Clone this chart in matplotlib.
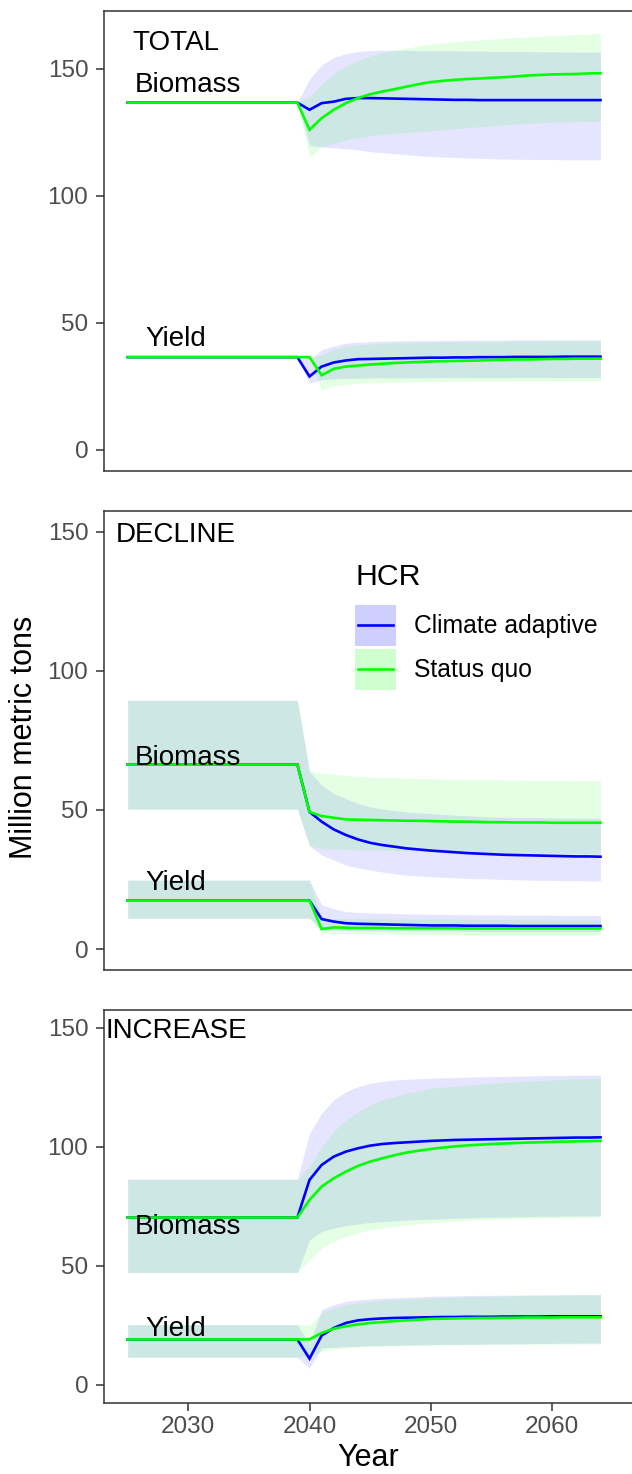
import matplotlib
matplotlib.use("Agg")
import matplotlib.pyplot as plt
from matplotlib.patches import Patch
from matplotlib.lines import Line2D
from matplotlib.legend_handler import HandlerLine2D
import numpy as np

plt.rcParams['font.family'] = ['Liberation Sans', 'DejaVu Sans']

years = np.arange(2025, 2065)
n_pre = 14  # 2025-2038, before the new HCR starts

# ---- TOTAL ----  (post lists run 2039..2064)
tot_bio_pre = 136.7
tot_bio_ca = [136.7, 133.9, 136.5, 137.1, 138.2, 138.5, 138.5, 138.4, 138.3, 138.2, 138.1, 138.0, 137.9,
              137.8, 137.8, 137.7, 137.7, 137.7, 137.7, 137.7, 137.7, 137.7, 137.7, 137.7, 137.7, 137.7]
tot_bio_sq = [136.7, 126.0, 130.6, 133.9, 136.5, 138.5, 140.0, 141.1, 142.0, 143.0, 144.0, 144.8, 145.3,
              145.7, 146.0, 146.2, 146.5, 146.7, 147.0, 147.4, 147.6, 147.8, 147.9, 148.0, 148.2, 148.3]
tot_bio_ca_hi = [136.7, 146.0, 151.5, 154.5, 156.0, 156.8, 157.2, 157.3, 157.3, 157.3, 157.2, 157.2, 157.1,
                 157.1, 157.0, 157.0, 156.9, 156.9, 156.8, 156.8, 156.7, 156.7, 156.7, 156.6, 156.6, 156.6]
tot_bio_ca_lo = [136.7, 119.8, 119.3, 118.9, 118.5, 118.1, 117.4, 117.0, 116.6, 116.2, 115.8, 115.5, 115.3,
                 115.1, 114.9, 114.8, 114.6, 114.5, 114.4, 114.4, 114.3, 114.3, 114.2, 114.2, 114.2, 114.2]
tot_bio_sq_hi = [136.7, 139.0, 144.0, 148.0, 151.0, 153.3, 155.0, 156.3, 157.3, 158.2, 159.0, 159.7, 160.2,
                 160.7, 161.1, 161.4, 161.7, 162.0, 162.3, 162.6, 162.9, 163.1, 163.3, 163.5, 163.7, 163.9]
tot_bio_sq_lo = [136.7, 115.1, 119.4, 120.8, 122.0, 123.0, 123.6, 124.2, 124.7, 125.0, 125.3, 125.6, 126.0,
                 126.4, 126.8, 127.2, 127.6, 128.0, 128.3, 128.6, 128.8, 129.0, 129.1, 129.2, 129.3, 129.3]

tot_yld_pre = 36.5
tot_yld_ca = [36.5, 28.9, 32.8, 34.4, 35.2, 35.7, 35.8, 35.9, 36.0, 36.1, 36.2, 36.3, 36.3,
              36.4, 36.4, 36.5, 36.5, 36.5, 36.6, 36.6, 36.6, 36.6, 36.7, 36.7, 36.7, 36.7]
tot_yld_sq = [36.5, 36.5, 29.4, 31.9, 32.8, 33.2, 33.6, 33.9, 34.2, 34.4, 34.6, 34.8, 34.9,
              35.0, 35.1, 35.2, 35.4, 35.5, 35.6, 35.6, 35.7, 35.8, 35.8, 35.9, 35.9, 35.9]
tot_yld_ca_hi = [36.5, 35.4, 39.4, 40.9, 42.0, 42.4, 42.6, 42.8, 42.9, 43.0, 43.0, 43.1, 43.1,
                 43.1, 43.2, 43.2, 43.2, 43.2, 43.3, 43.3, 43.3, 43.3, 43.3, 43.3, 43.3, 43.3]
tot_yld_ca_lo = [36.5, 26.2, 27.6, 27.9, 28.1, 28.2, 28.3, 28.3, 28.4, 28.4, 28.4, 28.4, 28.5,
                 28.5, 28.5, 28.5, 28.5, 28.5, 28.5, 28.5, 28.5, 28.5, 28.5, 28.5, 28.5, 28.5]
tot_yld_sq_hi = [36.5, 36.5, 37.4, 39.6, 40.7, 41.3, 41.7, 41.9, 42.1, 42.2, 42.3, 42.4, 42.5,
                 42.5, 42.6, 42.6, 42.7, 42.7, 42.8, 42.8, 42.8, 42.9, 42.9, 43.0, 43.0, 43.0]
tot_yld_sq_lo = [36.5, 36.5, 23.4, 25.2, 25.8, 26.2, 26.4, 26.5, 26.6, 26.7, 26.8, 26.9, 26.9,
                 27.0, 27.0, 27.1, 27.1, 27.1, 27.2, 27.2, 27.2, 27.2, 27.3, 27.3, 27.3, 27.3]

# ---- DECLINE ----
dec_bio_pre, dec_bio_pre_lo, dec_bio_pre_hi = 66.3, 50.3, 89.4
dec_bio_ca = [66.3, 49.3, 45.8, 43.0, 41.0, 39.4, 38.2, 37.4, 36.8, 36.2, 35.8, 35.4, 35.1,
              34.8, 34.5, 34.3, 34.1, 33.9, 33.8, 33.7, 33.6, 33.5, 33.4, 33.3, 33.3, 33.2]
dec_bio_sq = [66.3, 49.3, 47.8, 47.2, 46.6, 46.5, 46.4, 46.3, 46.2, 46.1, 46.1, 46.0, 45.9,
              45.8, 45.8, 45.7, 45.6, 45.6, 45.5, 45.5, 45.5, 45.4, 45.4, 45.4, 45.4, 45.4]
dec_bio_ca_hi = [89.4, 63.9, 58.9, 55.9, 54.1, 52.3, 51.1, 50.3, 49.8, 49.3, 49.0, 48.7, 48.4,
                 48.1, 47.9, 47.7, 47.5, 47.4, 47.3, 47.2, 47.2, 47.1, 47.1, 47.0, 47.0, 47.0]
dec_bio_ca_lo = [50.3, 37.1, 33.8, 32.0, 30.2, 29.2, 28.4, 27.7, 27.1, 26.6, 26.3, 26.0, 25.8,
                 25.6, 25.4, 25.3, 25.2, 25.0, 24.9, 24.8, 24.7, 24.7, 24.6, 24.6, 24.5, 24.5]
dec_bio_sq_hi = [89.4, 63.9, 63.3, 62.8, 62.4, 62.1, 61.9, 61.7, 61.6, 61.4, 61.3, 61.2, 61.1,
                 61.0, 60.9, 60.9, 60.8, 60.8, 60.7, 60.7, 60.6, 60.6, 60.6, 60.5, 60.5, 60.5]
dec_bio_sq_lo = [50.3, 37.1, 36.2, 36.0, 35.8, 35.7, 35.6, 35.5, 35.4, 35.2, 35.1, 35.0, 34.9,
                 34.9, 34.8, 34.8, 34.7, 34.7, 34.6, 34.6, 34.5, 34.5, 34.5, 34.4, 34.4, 34.4]

dec_yld_pre, dec_yld_pre_lo, dec_yld_pre_hi = 17.4, 11.1, 24.8
dec_yld_ca = [17.4, 17.4, 10.8, 9.9, 9.3, 9.1, 9.0, 8.9, 8.8, 8.7, 8.6, 8.5, 8.5,
              8.5, 8.4, 8.4, 8.4, 8.4, 8.3, 8.3, 8.3, 8.3, 8.3, 8.3, 8.3, 8.3]
dec_yld_sq = [17.4, 17.4, 7.2, 7.8, 7.7, 7.6, 7.6, 7.6, 7.5, 7.5, 7.5, 7.5, 7.5,
              7.5, 7.4, 7.4, 7.4, 7.4, 7.4, 7.4, 7.4, 7.4, 7.4, 7.4, 7.4, 7.4]
dec_yld_ca_hi = [24.8, 24.8, 15.9, 14.5, 13.5, 13.2, 13.0, 12.9, 12.8, 12.7, 12.6, 12.5, 12.5,
                 12.4, 12.4, 12.3, 12.3, 12.3, 12.2, 12.2, 12.2, 12.2, 12.1, 12.1, 12.1, 12.1]
dec_yld_ca_lo = [11.1, 11.1, 6.9, 6.8, 6.7, 6.6, 6.6, 6.5, 6.5, 6.5, 6.4, 6.4, 6.4,
                 6.4, 6.4, 6.3, 6.3, 6.3, 6.3, 6.3, 6.3, 6.3, 6.3, 6.3, 6.3, 6.3]
dec_yld_sq_hi = [24.8, 24.8, 11.1, 11.0, 11.0, 11.0, 10.9, 10.9, 10.8, 10.8, 10.8, 10.7, 10.7,
                 10.7, 10.6, 10.6, 10.6, 10.6, 10.6, 10.5, 10.5, 10.5, 10.5, 10.5, 10.5, 10.5]
dec_yld_sq_lo = [11.1, 11.1, 5.7, 5.6, 5.5, 5.5, 5.4, 5.4, 5.3, 5.3, 5.3, 5.2, 5.2,
                 5.2, 5.2, 5.1, 5.1, 5.1, 5.1, 5.1, 5.1, 5.1, 5.1, 5.1, 5.1, 5.1]

# ---- INCREASE ----
inc_bio_pre, inc_bio_pre_lo, inc_bio_pre_hi = 70.3, 47.2, 86.4
inc_bio_ca = [70.3, 86.1, 92.4, 95.9, 98.0, 99.4, 100.5, 101.2, 101.6, 101.9, 102.2, 102.5, 102.7,
              102.9, 103.0, 103.1, 103.2, 103.3, 103.4, 103.5, 103.6, 103.7, 103.8, 103.9, 103.9, 104.0]
inc_bio_sq = [70.3, 77.7, 83.3, 86.8, 89.6, 92.0, 93.8, 95.2, 96.5, 97.6, 98.4, 99.1, 99.7,
              100.2, 100.6, 100.9, 101.2, 101.4, 101.6, 101.8, 101.9, 102.1, 102.2, 102.3, 102.4, 102.5]
inc_bio_ca_hi = [86.4, 105.7, 114.1, 119.7, 123.2, 125.3, 126.7, 127.5, 128.1, 128.4, 128.6, 128.8, 129.0,
                 129.1, 129.3, 129.4, 129.5, 129.6, 129.7, 129.8, 129.9, 130.0, 130.0, 130.1, 130.1, 130.2]
inc_bio_ca_lo = [47.2, 60.9, 64.4, 65.8, 66.9, 67.6, 68.2, 68.6, 68.9, 69.2, 69.4, 69.6, 69.8,
                 70.0, 70.1, 70.3, 70.4, 70.5, 70.6, 70.7, 70.8, 70.8, 70.9, 70.9, 71.0, 71.0]
inc_bio_sq_hi = [86.4, 91.7, 100.1, 106.4, 111.3, 114.8, 117.6, 119.7, 121.2, 122.5, 123.6, 124.6, 125.1,
                 125.5, 125.9, 126.3, 126.7, 127.0, 127.3, 127.6, 127.8, 128.1, 128.3, 128.5, 128.7, 128.8]
inc_bio_sq_lo = [47.2, 52.6, 57.5, 60.2, 62.3, 63.8, 65.1, 65.9, 66.6, 67.2, 67.7, 68.2, 68.5,
                 68.8, 69.1, 69.4, 69.6, 69.8, 69.9, 70.0, 70.1, 70.2, 70.3, 70.4, 70.5, 70.5]

inc_yld_pre, inc_yld_pre_lo, inc_yld_pre_hi = 19.1, 11.6, 25.3
inc_yld_ca = [19.1, 11.0, 20.7, 23.9, 26.0, 27.1, 27.6, 27.9, 28.1, 28.2, 28.3, 28.4, 28.5,
              28.5, 28.6, 28.6, 28.6, 28.7, 28.7, 28.7, 28.7, 28.8, 28.8, 28.8, 28.8, 28.8]
inc_yld_sq = [19.1, 19.1, 21.8, 23.6, 24.6, 25.4, 26.0, 26.4, 26.8, 27.1, 27.4, 27.7, 27.8,
              27.9, 28.0, 28.1, 28.1, 28.2, 28.2, 28.3, 28.3, 28.3, 28.4, 28.4, 28.4, 28.4]
inc_yld_ca_hi = [25.3, 17.0, 31.6, 33.7, 35.1, 35.7, 36.1, 36.4, 36.6, 36.8, 37.0, 37.2, 37.3,
                 37.4, 37.5, 37.6, 37.6, 37.7, 37.7, 37.8, 37.8, 37.8, 37.9, 37.9, 37.9, 37.9]
inc_yld_ca_lo = [11.6, 7.0, 15.5, 15.8, 16.0, 16.2, 16.4, 16.5, 16.6, 16.7, 16.8, 16.9, 17.0,
                 17.0, 17.1, 17.1, 17.2, 17.2, 17.3, 17.3, 17.4, 17.4, 17.5, 17.5, 17.6, 17.6]
inc_yld_sq_hi = [25.3, 25.0, 30.2, 32.3, 33.7, 34.5, 35.1, 35.5, 35.8, 36.1, 36.3, 36.5, 36.7,
                 36.8, 37.0, 37.1, 37.2, 37.3, 37.4, 37.5, 37.6, 37.7, 37.8, 37.8, 37.9, 37.9]
inc_yld_sq_lo = [11.6, 12.0, 14.1, 15.1, 15.6, 15.9, 16.2, 16.3, 16.4, 16.5, 16.6, 16.6, 16.7,
                 16.7, 16.8, 16.8, 16.9, 16.9, 17.0, 17.0, 17.0, 17.1, 17.1, 17.1, 17.2, 17.2]

panel_names = ["TOTAL", "DECLINE", "INCREASE"]
hcr_names = ["Climate adaptive", "Status quo"]
hcr_colors = ["#0000FF", "#00FF00"]

# label positions (x, baseline y) per panel
name_pos = [(2029, 157.5), (2029, 146.1), (2029, 145.6)]
bio_pos = [(2030, 140.8), (2030, 66.1), (2030, 63.5)]
yld_pos = [(2029, 40.7), (2029, 21.3), (2029, 20.7)]
ylims = [(-8.2, 172.9), (-7.5, 157.5), (-7.5, 157.5)]


def full(pre, post):
    return np.array([pre] * n_pre + list(post))


class MidLine(HandlerLine2D):
    # put the key line through the middle of the shaded key box, slightly inset
    def create_artists(self, legend, orig_handle, xdescent, ydescent, width, height, fontsize, trans):
        arts = super().create_artists(legend, orig_handle, xdescent, ydescent,
                                      width, height, fontsize, trans)
        y = height / 2 - ydescent
        for a in arts:
            a.set_xdata([-xdescent + 0.08 * width, -xdescent + 0.92 * width])
            a.set_ydata([y, y])
        return arts


# (pre mean, pre lo, pre hi, [(mean, lo, hi) per HCR])
panels = [
    [(tot_bio_pre, tot_bio_pre, tot_bio_pre,
      [(tot_bio_ca, tot_bio_ca_lo, tot_bio_ca_hi), (tot_bio_sq, tot_bio_sq_lo, tot_bio_sq_hi)]),
     (tot_yld_pre, tot_yld_pre, tot_yld_pre,
      [(tot_yld_ca, tot_yld_ca_lo, tot_yld_ca_hi), (tot_yld_sq, tot_yld_sq_lo, tot_yld_sq_hi)])],
    [(dec_bio_pre, dec_bio_pre_lo, dec_bio_pre_hi,
      [(dec_bio_ca, dec_bio_ca_lo, dec_bio_ca_hi), (dec_bio_sq, dec_bio_sq_lo, dec_bio_sq_hi)]),
     (dec_yld_pre, dec_yld_pre_lo, dec_yld_pre_hi,
      [(dec_yld_ca, dec_yld_ca_lo, dec_yld_ca_hi), (dec_yld_sq, dec_yld_sq_lo, dec_yld_sq_hi)])],
    [(inc_bio_pre, inc_bio_pre_lo, inc_bio_pre_hi,
      [(inc_bio_ca, inc_bio_ca_lo, inc_bio_ca_hi), (inc_bio_sq, inc_bio_sq_lo, inc_bio_sq_hi)]),
     (inc_yld_pre, inc_yld_pre_lo, inc_yld_pre_hi,
      [(inc_yld_ca, inc_yld_ca_lo, inc_yld_ca_hi), (inc_yld_sq, inc_yld_sq_lo, inc_yld_sq_hi)])],
]

W, H = 632, 1474
fig = plt.figure(figsize=(W / 100, H / 100), dpi=100)

# panel boxes in pixels: left, top, right, bottom
boxes = [(104, 10.7, 632, 470.7), (104, 510.7, 632, 970.0), (104, 1010.0, 632, 1402.7)]

axes = []
for i, (l, t, r, b) in enumerate(boxes):
    ax = fig.add_axes([l / W, 1 - b / H, (r - l) / W, (b - t) / H])
    axes.append(ax)
    for metric in panels[i]:
        pre, pre_lo, pre_hi, runs = metric
        for (m, lo, hi), col in zip(runs, hcr_colors):
            ax.fill_between(years, full(pre_lo, lo), full(pre_hi, hi), color=col, alpha=0.1, lw=0)
        for (m, lo, hi), col in zip(runs, hcr_colors):
            ax.plot(years, full(pre, m), color=col, lw=1.9, solid_joinstyle='miter')

    ax.text(name_pos[i][0], name_pos[i][1], panel_names[i], ha='center', va='baseline', fontsize=20)
    ax.text(bio_pos[i][0], bio_pos[i][1], "Biomass", ha='center', va='baseline', fontsize=20)
    ax.text(yld_pos[i][0], yld_pos[i][1], "Yield", ha='center', va='baseline', fontsize=20)

    ax.set_xlim(2023.05, 2066.6)
    ax.set_ylim(*ylims[i])
    ax.set_yticks([0, 50, 100, 150])
    ax.set_xticks([2030, 2040, 2050, 2060])
    ax.tick_params(axis='both', length=6, width=1.1, color='#333333',
                   labelcolor='#4D4D4D', labelsize=17.5)
    ax.tick_params(axis='y', pad=5.3)
    ax.tick_params(axis='x', pad=3.5)
    for side in ['left', 'top', 'bottom']:
        ax.spines[side].set_color('#333333')
        ax.spines[side].set_linewidth(1.1)
    ax.spines['right'].set_visible(False)
    if i < 2:
        ax.tick_params(axis='x', bottom=False, labelbottom=False)

handles = [(Patch(facecolor=c, alpha=0.19, lw=0), Line2D([], [], color=c, lw=1.9)) for c in hcr_colors]
fs = 17.8
fpx = fs * 100 / 72
# legend key boxes of about 41 px square
key_h = (41 / fpx - 0.245) / 0.65
leg = axes[1].legend(handles, hcr_names, title="HCR", loc='upper left',
                     bbox_to_anchor=(355 / W, 1 - 563 / H), bbox_transform=fig.transFigure,
                     frameon=False, fontsize=fs, title_fontsize=21.8,
                     handlelength=41 / fpx, handleheight=key_h, labelspacing=0.12,
                     handletextpad=18 / fpx, borderpad=0, borderaxespad=0, alignment='left',
                     handler_map={Line2D: MidLine()})
leg._legend_box.sep = 10

fig.text(24 / W, 1 - 737 / H, "Million metric tons", rotation=90, ha='center', va='center', fontsize=22)
fig.text(368 / W, 1 - 1466 / H, "Year", ha='center', va='baseline', fontsize=22)

fig.savefig("out.png", dpi=100)
